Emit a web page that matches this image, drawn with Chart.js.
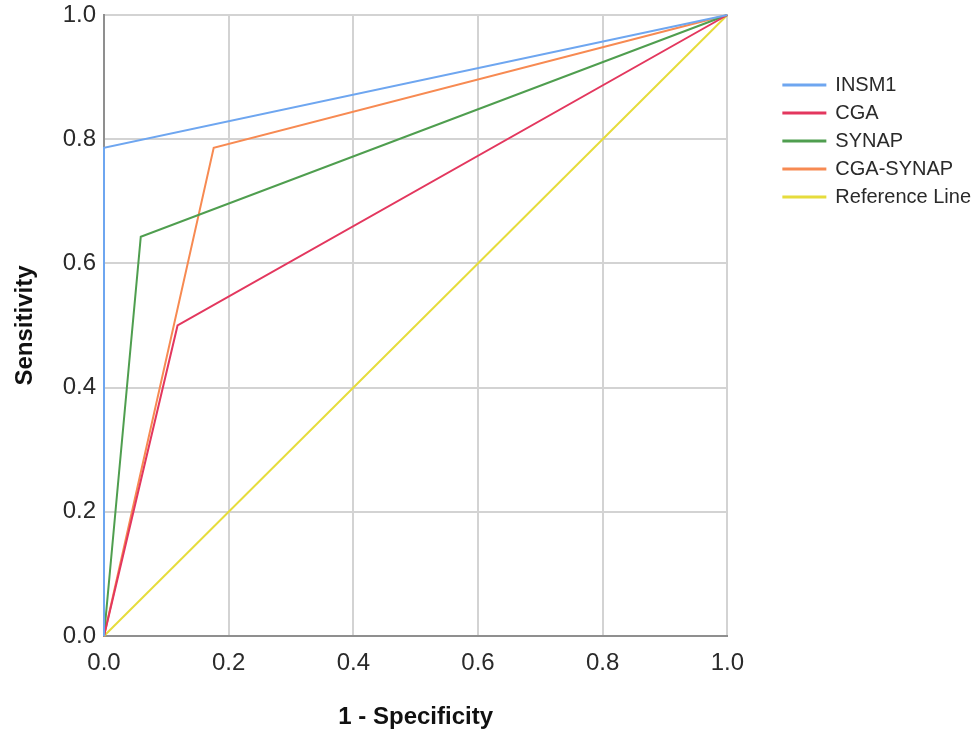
<!DOCTYPE html>
<html>
<head>
<meta charset="utf-8">
<script src="https://cdn.jsdelivr.net/npm/chart.js@4"></script>
<style>
  html, body { margin: 0; padding: 0; background: #fff; }
  #wrap { width: 977px; height: 734px; position: relative; }
</style>
</head>
<body>
<div id="wrap"><canvas id="roc"></canvas></div>
<script>
// ROC curves, values
const seriesNames = ['INSM1', 'CGA', 'SYNAP', 'CGA-SYNAP', 'Reference Line'];
const seriesColors = ['#6ea6f0', '#e3375e', '#4f9e4f', '#f78a52', '#e6dc3c'];

const fprINSM1 = [0, 0, 1];
const sensINSM1 = [0, 0.786, 1];
const fprCGA = [0, 0.118, 1];
const sensCGA = [0, 0.5, 1];
const fprSYNAP = [0, 0.059, 1];
const sensSYNAP = [0, 0.643, 1];
const fprCGASYNAP = [0, 0.176, 1];
const sensCGASYNAP = [0, 0.786, 1];
const fprRef = [0, 1];
const sensRef = [0, 1];

const tickValues = [0, 0.2, 0.4, 0.6, 0.8, 1.0];

const allX = [fprINSM1, fprCGA, fprSYNAP, fprCGASYNAP, fprRef];
const allY = [sensINSM1, sensCGA, sensSYNAP, sensCGASYNAP, sensRef];

let datasets = seriesNames.map(function (name, i) {
    return {
        label: name,
        data: allX[i].map(function (x, j) { return { x: x, y: allY[i][j] }; }),
        borderColor: seriesColors[i],
        backgroundColor: seriesColors[i],
        borderWidth: 2,
        showLine: true,
        pointRadius: 0,
        tension: 0,
        clip: false
    };
});

// move the legend to where the original sits
const legendShift = {
    id: 'legendShift',
    afterLayout(chart) {
        let lg = chart.legend;
        lg.left += 48; lg.right += 48;
        lg.top += 67; lg.bottom += 67;
    }
};

let roc = new Chart(document.getElementById('roc'), {
    type: 'scatter',
    data: { datasets: datasets },
    plugins: [legendShift],
    options: {
        responsive: true,
        maintainAspectRatio: false,
        animation: false,
        layout: { padding: { top: 0, right: 44, bottom: 0, left: 0 } },
        scales: {
            x: {
                type: 'linear',
                min: 0, max: 1,
                afterBuildTicks: function (s) { s.ticks = tickValues.map(v => ({ value: v })); },
                afterFit: function (s) { s.height = 98; },
                ticks: {
                    padding: 13,
                    color: '#2a2a2a',
                    font: { family: 'Liberation Sans, Arial', size: 24 },
                    maxRotation: 0,
                    callback: v => v.toFixed(1)
                },
                grid: { color: '#d3d3d3', lineWidth: 2, drawTicks: false },
                border: { color: '#8f8f8f', width: 2 },
                title: {
                    display: true,
                    text: '1 - Specificity',
                    color: '#111',
                    font: { family: 'Liberation Sans, Arial', size: 24, weight: 'bold' },
                    padding: { top: 0, bottom: 2 }
                }
            },
            y: {
                type: 'linear',
                min: 0, max: 1,
                afterBuildTicks: function (s) { s.ticks = tickValues.map(v => ({ value: v })); },
                afterFit: function (s) { s.width = 104; s.paddingTop = 15; },
                ticks: {
                    padding: 8,
                    color: '#2a2a2a',
                    font: { family: 'Liberation Sans, Arial', size: 24 },
                    callback: v => v.toFixed(1)
                },
                grid: { color: '#d3d3d3', lineWidth: 2, drawTicks: false },
                border: { color: '#8f8f8f', width: 2 },
                title: {
                    display: true,
                    text: 'Sensitivity',
                    color: '#111',
                    font: { family: 'Liberation Sans, Arial', size: 24, weight: 'bold' },
                    padding: { top: 11, bottom: 0 }
                }
            }
        },
        plugins: {
            tooltip: { enabled: false },
            legend: {
                display: true,
                position: 'right',
                align: 'start',
                labels: {
                    boxWidth: 42,
                    boxHeight: 1,
                    padding: 8,
                    color: '#2a2a2a',
                    font: { family: 'Liberation Sans, Arial', size: 20 }
                }
            }
        }
    }
});
</script>
</body>
</html>
